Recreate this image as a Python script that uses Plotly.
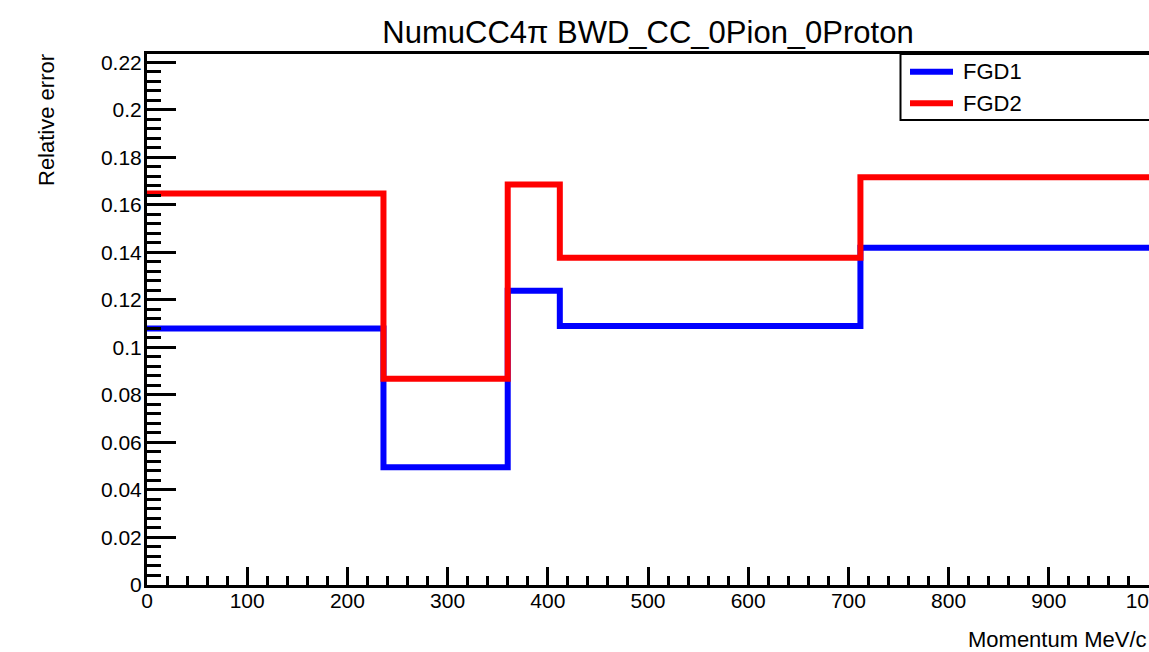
import plotly.graph_objects as go

# Momentum bin edges (MeV/c) and relative errors per bin
bin_edges = [0, 236, 360, 412, 712, 1000]
fgd1_err = [0.108, 0.0496, 0.1238, 0.1090, 0.1420]
fgd2_err = [0.1648, 0.0868, 0.1686, 0.1377, 0.1716]

series_names = ["FGD1", "FGD2"]
series_colors = ["#0000ff", "#ff0000"]

FONT = "Liberation Sans, Arial, Helvetica, sans-serif"

W, H = 1149, 652
M_L, M_R, M_T, M_B = 147, 0, 54, 67
PW = W - M_L - M_R
PH = H - M_T - M_B


def px_x(px):
    return (px - M_L) / PW


def px_y(py):
    return (H - M_B - py) / PH


fig = go.Figure()
for name, vals, col in zip(series_names, [fgd1_err, fgd2_err], series_colors):
    fig.add_trace(go.Scatter(
        x=bin_edges,
        y=vals + [vals[-1]],
        mode="lines",
        line=dict(color=col, width=6, shape="hv"),
        name=name,
        showlegend=False,
    ))

axis_common = dict(
    showline=True, linecolor="black", linewidth=3,
    ticks="inside", tickcolor="black", tickwidth=2.5,
    showgrid=False, zeroline=False, automargin=False,
    tickfont=dict(family=FONT, size=21, color="black"),
)

fig.update_xaxes(
    range=[0, 1000], tick0=0, dtick=100, ticklen=18,
    mirror=True, ticklabeloverflow="allow", ticklabelstandoff=-5,
    minor=dict(dtick=20, ticks="inside", ticklen=9, tickwidth=2.5,
               tickcolor="black", showgrid=False),
    **axis_common,
)
fig.update_yaxes(
    range=[0, 0.2235], tick0=0, dtick=0.02, ticklen=29,
    ticklabelstandoff=-2,
    minor=dict(dtick=0.004, ticks="inside", ticklen=14, tickwidth=2.5,
               tickcolor="black", showgrid=False),
    **axis_common,
)

shapes = []
annotations = []

# Legend box with entries
shapes.append(dict(type="rect", xref="paper", yref="paper",
                   x0=px_x(900.5), x1=1.1, y0=px_y(120), y1=px_y(54),
                   line=dict(color="black", width=2), fillcolor="white",
                   layer="above"))
for name, col, py in zip(series_names, series_colors, [71.7, 103.3]):
    shapes.append(dict(type="line", xref="paper", yref="paper",
                       x0=px_x(910), x1=px_x(953), y0=px_y(py), y1=px_y(py),
                       line=dict(color=col, width=6), layer="above"))
    annotations.append(dict(text=name, xref="paper", yref="paper",
                            x=px_x(961), y=px_y(py), xanchor="left",
                            yanchor="middle", showarrow=False,
                            font=dict(family=FONT, size=22, color="black")))

# Axis titles
annotations.append(dict(text="Momentum MeV/c", xref="paper", yref="paper",
                        x=px_x(966), y=px_y(639), xanchor="left",
                        yanchor="middle", showarrow=False,
                        font=dict(family=FONT, size=22, color="black")))
annotations.append(dict(text="Relative error", xref="paper", yref="paper",
                        x=px_x(47), y=px_y(52), xanchor="center",
                        yanchor="top", textangle=-90, showarrow=False,
                        font=dict(family=FONT, size=22, color="black")))

fig.update_layout(
    width=W, height=H,
    margin=dict(l=M_L, r=M_R, t=M_T, b=M_B),
    paper_bgcolor="white", plot_bgcolor="white",
    title=dict(text="NumuCC4π BWD_CC_0Pion_0Proton", x=0.5, xref="paper",
               y=1 - 32 / H, yref="container", xanchor="center",
               yanchor="middle",
               font=dict(family=FONT, size=31, color="black")),
    shapes=shapes,
    annotations=annotations,
)

fig.write_html("out.html")
